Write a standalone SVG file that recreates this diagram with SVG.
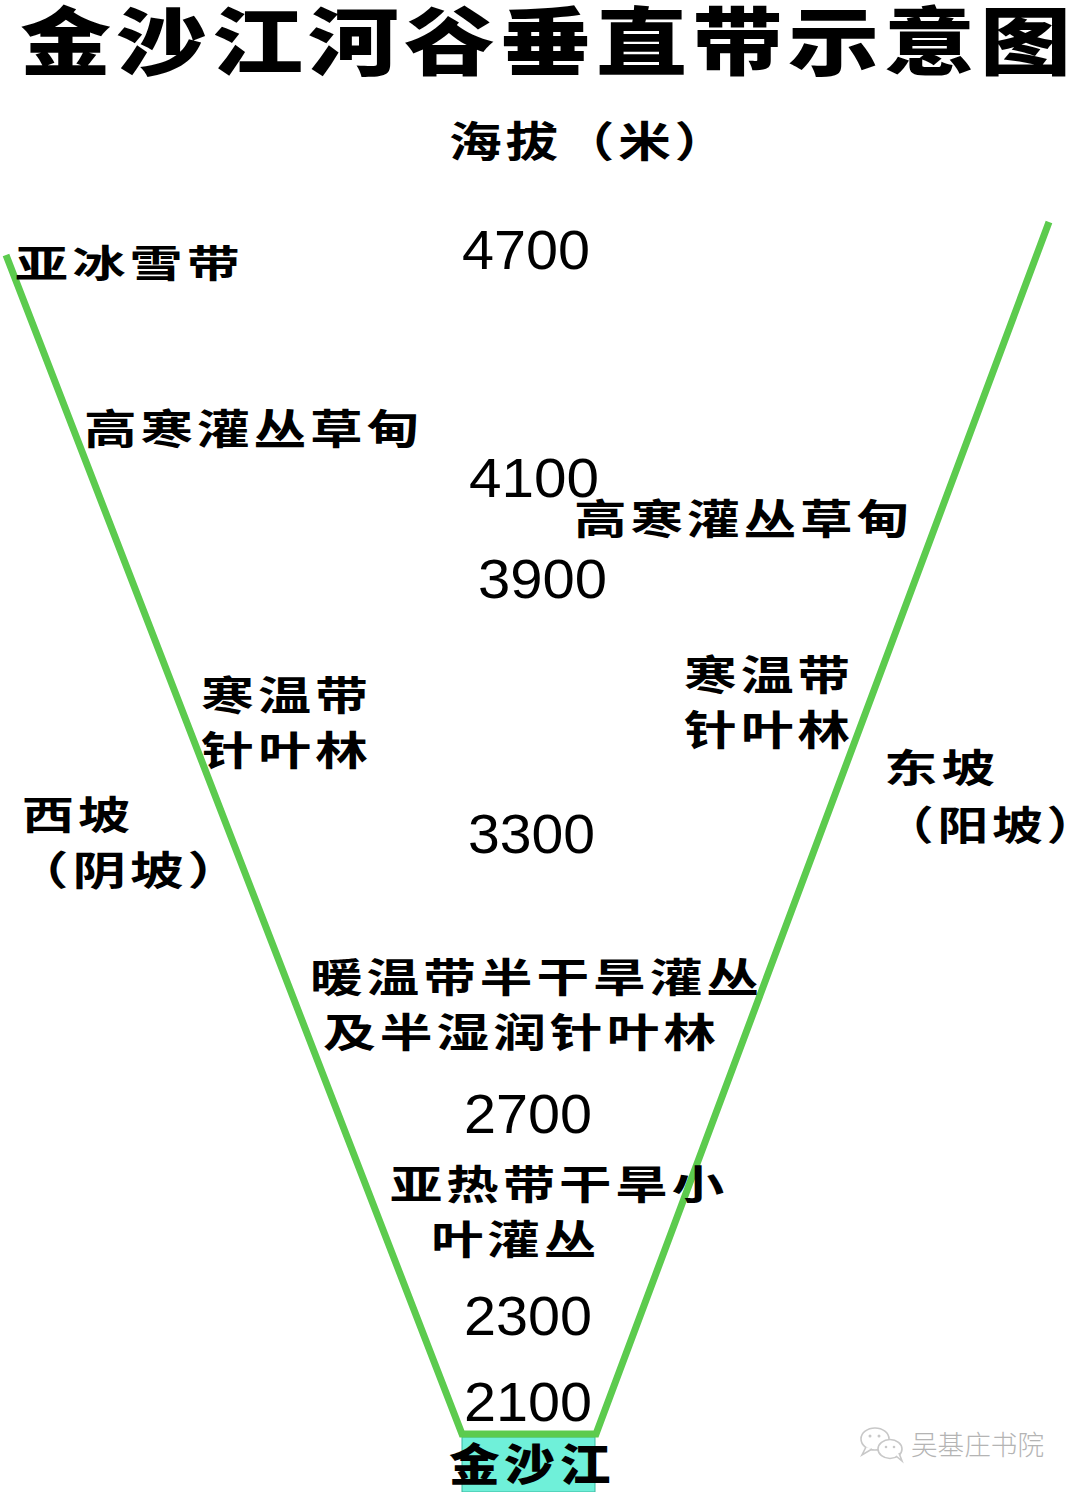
<svg xmlns="http://www.w3.org/2000/svg" width="1080" height="1492" viewBox="0 0 1080 1492">
<style>
.cjk{font-family:"Liberation Sans","Noto Sans CJK SC","Noto Sans CJK TC",sans-serif;font-weight:700;fill:#000;letter-spacing:3px}
.title{font-family:"Liberation Sans","Noto Sans CJK SC",sans-serif;font-weight:900;fill:#000;font-size:74px;letter-spacing:4px}
.num{font-family:"Liberation Sans",Arial,sans-serif;fill:#000;font-size:55px}
.river{font-family:"Liberation Sans","Noto Sans CJK SC",sans-serif;font-weight:900;fill:#000;font-size:44px;letter-spacing:4px}
.slope{fill:none;stroke:#5ccb4e;stroke-width:7;stroke-linejoin:miter}
.wm{font-family:"Liberation Sans","Noto Sans CJK SC",sans-serif;font-weight:300;fill:#b4b4b4;font-size:27px}
.wmi{fill:#fff;stroke:#c8c8c8;stroke-width:1.6}
</style>
<rect x="0" y="0" width="1080" height="1492" fill="#fff"/>

<g id="title">
<text class="title" x="20" y="69" textLength="1056" lengthAdjust="spacingAndGlyphs">金沙江河谷垂直带示意图</text>
</g>

<g id="river-box">
<rect x="462" y="1437" width="133" height="55" fill="#6ff0d9" stroke="#3bb89f" stroke-width="1"/>
</g>

<g id="connectors">
<polyline class="slope" points="6,255 462,1434 596,1434 1049,222"/>
</g>

<g id="river-label">
<text class="river" x="449" y="1481" textLength="166" lengthAdjust="spacingAndGlyphs">金沙江</text>
</g>

<g id="axis-label">
<text class="cjk" x="449" y="157" font-size="42" textLength="282" lengthAdjust="spacingAndGlyphs">海拔（米）</text>
</g>

<g id="altitudes">
<text class="num" x="462" y="269" textLength="128" lengthAdjust="spacingAndGlyphs">4700</text>
<text class="num" x="469" y="497" textLength="130" lengthAdjust="spacingAndGlyphs">4100</text>
<text class="num" x="478" y="598" textLength="129" lengthAdjust="spacingAndGlyphs">3900</text>
<text class="num" x="468" y="853" textLength="127" lengthAdjust="spacingAndGlyphs">3300</text>
<text class="num" x="464" y="1133" textLength="128" lengthAdjust="spacingAndGlyphs">2700</text>
<text class="num" x="464" y="1335" textLength="128" lengthAdjust="spacingAndGlyphs">2300</text>
<text class="num" x="464" y="1421" textLength="128" lengthAdjust="spacingAndGlyphs">2100</text>
</g>

<g id="zone-subnival">
<text class="cjk" x="15" y="277" font-size="38" textLength="229" lengthAdjust="spacingAndGlyphs">亚冰雪带</text>
</g>

<g id="zone-alpine-west">
<text class="cjk" x="84" y="444" font-size="41" textLength="339" lengthAdjust="spacingAndGlyphs">高寒灌丛草甸</text>
</g>

<g id="zone-alpine-east">
<text class="cjk" x="574" y="534" font-size="41" textLength="339" lengthAdjust="spacingAndGlyphs">高寒灌丛草甸</text>
</g>

<g id="zone-conifer-east">
<text class="cjk" x="684" y="690" font-size="41" textLength="170" lengthAdjust="spacingAndGlyphs">寒温带</text>
<text class="cjk" x="684" y="745" font-size="41" textLength="170" lengthAdjust="spacingAndGlyphs">针叶林</text>
</g>

<g id="zone-conifer-west">
<text class="cjk" x="201" y="710" font-size="40" textLength="171" lengthAdjust="spacingAndGlyphs">寒温带</text>
<text class="cjk" x="201" y="765" font-size="40" textLength="171" lengthAdjust="spacingAndGlyphs">针叶林</text>
</g>

<g id="east-slope">
<text class="cjk" x="884" y="782" font-size="39" textLength="115" lengthAdjust="spacingAndGlyphs">东坡</text>
<text class="cjk" x="883" y="840" font-size="40" textLength="218" lengthAdjust="spacingAndGlyphs">（阳坡）</text>
</g>

<g id="west-slope">
<text class="cjk" x="22" y="829" font-size="39" textLength="112" lengthAdjust="spacingAndGlyphs">西坡</text>
<text class="cjk" x="15" y="885" font-size="40" textLength="230" lengthAdjust="spacingAndGlyphs">（阴坡）</text>
</g>

<g id="zone-warm">
<text class="cjk" x="310" y="992" font-size="40" textLength="453" lengthAdjust="spacingAndGlyphs">暖温带半干旱灌丛</text>
<text class="cjk" x="323" y="1047" font-size="40" textLength="397" lengthAdjust="spacingAndGlyphs">及半湿润针叶林</text>
</g>

<g id="zone-subtropical">
<text class="cjk" x="390" y="1199" font-size="40" textLength="338" lengthAdjust="spacingAndGlyphs">亚热带干旱小</text>
<text class="cjk" x="431" y="1254" font-size="40" textLength="169" lengthAdjust="spacingAndGlyphs">叶灌丛</text>
</g>

<g id="watermark">
<ellipse class="wmi" cx="875" cy="1439" rx="14" ry="11"/>
<path class="wmi" d="M866,1447 L862,1455 L872,1449"/>
<ellipse class="wmi" cx="890" cy="1449" rx="12" ry="9.5"/>
<path class="wmi" d="M896,1456 L902,1461 L899,1453"/>
<circle cx="870" cy="1436" r="1.5" fill="#c8c8c8"/>
<circle cx="879" cy="1436" r="1.5" fill="#c8c8c8"/>
<circle cx="886" cy="1447" r="1.3" fill="#c8c8c8"/>
<circle cx="894" cy="1447" r="1.3" fill="#c8c8c8"/>
<text class="wm" x="911" y="1455" textLength="133" lengthAdjust="spacingAndGlyphs">吴基庄书院</text>
</g>
</svg>
